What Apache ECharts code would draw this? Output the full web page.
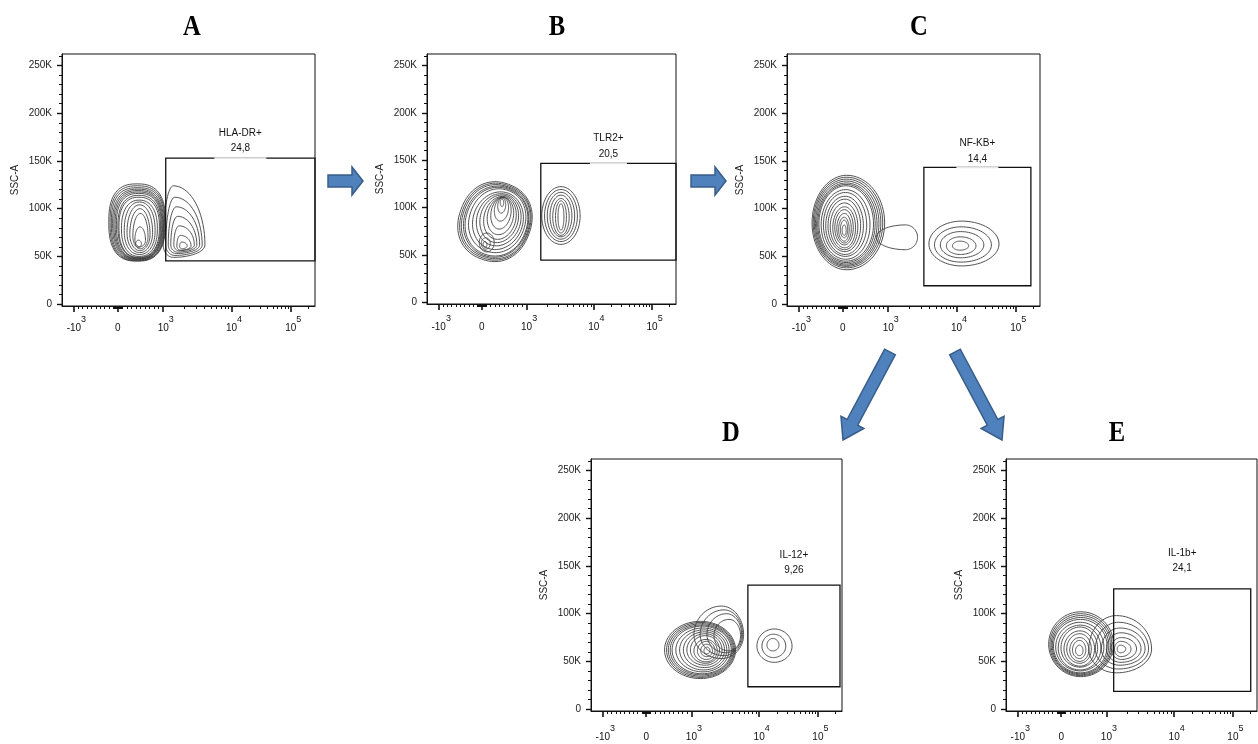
<!DOCTYPE html>
<html>
<head>
<meta charset="utf-8">
<title>Gating strategy</title>
<script src="https://cdn.jsdelivr.net/npm/echarts@6/dist/echarts.min.js"></script>
<style>
  html, body { margin: 0; padding: 0; background: #fff; }
  #main { width: 1258px; height: 744px; }
</style>
</head>
<body>
<div id="main"></div>
<script type="text/javascript">
var FONT = '"Liberation Sans", Arial, sans-serif';

// x axis (biexponential) : major ticks in display channels 0..1000
var xTickValues = [-1000, 0, 1000, 10000, 100000];
var xTickChannels = [47, 220, 400, 670, 904];
var xTickBase = ['-10', '0', '10', '10', '10'];
var xTickPower = ['3', '', '3', '4', '5'];

// y axis SSC-A, in thousands
var yTickValues = [0, 50, 100, 150, 200, 250];
var yTickLabels = ['0', '50K', '100K', '150K', '200K', '250K'];

var panelLetters = ['A', 'B', 'C', 'D', 'E'];
var gateNames = ['HLA-DR+', 'TLR2+', 'NF-KB+', 'IL-12+', 'IL-1b+'];
var gatePercents = ['24,8', '20,5', '14,4', '9,26', '24,1'];
// [x from, y from, x to, y to]  (channel, K)
var gateBoxes = [
    [410, 45.4, 1000, 153],
    [457, 44.3, 1000, 146.6],
    [541, 19.2, 964, 143.3],
    [625, 23.4, 992, 130],
    [429, 18.6, 975, 126]
];

// contour rings: [cx, cy, left, right, down, up, tilt deg, squareness]
var contoursA = [
    [297, 86, 112, 112, 41, 40, 0, 2.6],
    [298, 85.5, 108, 108.5, 40, 38.5, 0, 2.6],
    [299, 85, 104, 105, 39, 37, 0, 2.6],
    [300, 84.5, 100, 101, 38, 36, 0, 2.5],
    [301, 84, 96, 97, 37, 35, 0, 2.5],
    [302, 83.5, 92, 93, 36, 34, 0, 2.5],
    [303, 83, 88, 89, 35, 33, 0, 2.5],
    [304, 82, 83, 85, 33.5, 32, 0, 2.4],
    [304, 81, 79, 81, 32, 31, 0, 2.4],
    [305, 79, 70, 72, 29, 30, 0, 2.3],
    [306, 77, 60, 62, 25, 30, 0, 2.2],
    [307, 75, 50, 51, 21, 29, 0, 2.1],
    [308, 73, 40, 40, 17, 27],
    [310, 71, 30, 30, 13, 24],
    [308, 67, 20, 22, 7, 14],
    [302, 63, 11, 12, 3.5, 4],
    [440, 62, 40, 125, 13, 62],
    [446, 62, 36, 108, 11, 50],
    [452, 62, 32, 92, 9, 40],
    [457, 62, 27, 76, 7.5, 30],
    [463, 62, 21, 60, 6, 20],
    [468, 61, 14, 42, 4.5, 11],
    [473, 61, 8, 22, 3, 4]
];
var contoursB = [
    [273, 85, 145, 145, 42, 42, 20, 2.2],
    [274.5, 85, 139, 139, 40.5, 40.5, 20, 2.2],
    [276, 85, 134, 134, 39, 39, 20, 2.2],
    [277.5, 85, 128, 128, 37.8, 37.8, 20, 2.1],
    [279, 85, 123, 123, 36.5, 36.5, 20, 2.1],
    [282, 86, 112, 112, 34, 34, 20, 2.1],
    [285, 86, 100, 100, 31, 31, 20, 2],
    [288, 87, 88, 88, 28, 28, 18, 2],
    [290, 88, 76, 76, 25.5, 25.5, 16, 2],
    [293, 89, 64, 64, 23, 23, 14, 2],
    [295, 91, 52, 52, 20, 20, 12, 2],
    [297, 94, 40, 40, 17, 17, 10, 2],
    [299, 98, 28, 28, 12.5, 12.5, 8, 2],
    [300, 102, 16, 16, 8, 8, 5, 2],
    [301, 105, 7, 7, 4, 4, 0, 2],
    [240, 63, 30, 30, 10, 10],
    [236, 62, 18, 18, 6, 6],
    [233, 61, 8, 8, 3, 3],
    [538, 91, 77, 77, 30, 31],
    [538, 91, 66, 66, 27, 28],
    [538, 91, 55, 55, 24.5, 25],
    [538, 91, 44, 44, 22, 22],
    [538, 90, 33, 33, 19.5, 19.5],
    [538, 90, 22, 22, 17, 17],
    [538, 90, 12, 12, 14, 14]
];
var contoursC = [
    [236, 85, 137, 150, 49, 50],
    [235.5, 85, 132, 143, 47, 48],
    [235, 85, 127, 136, 45.5, 46],
    [234.5, 84.5, 122, 129, 43.8, 44.5],
    [234, 84, 117, 122, 42, 43],
    [233.5, 84, 112, 115, 40.5, 41.5],
    [233, 84, 107, 109, 39, 40],
    [232, 83, 97, 96, 36, 37],
    [231, 83, 87, 84, 33, 34],
    [230, 82, 77, 72, 30, 31],
    [229, 82, 67, 62, 27, 28],
    [228, 81, 57, 52, 24, 25],
    [228, 80, 47, 43, 21, 22],
    [227, 80, 38, 35, 18, 19],
    [227, 79, 30, 27, 15, 16],
    [226, 78, 22, 20, 12, 13],
    [226, 78, 15, 14, 8.5, 10],
    [226, 77, 8, 8, 5, 6],
    [468, 70, 115, 48, 13, 13],
    [690, 63, 129, 148, 23, 24],
    [688, 62, 105, 120, 18, 19],
    [686, 62, 80, 92, 13.5, 14],
    [685, 61, 55, 62, 9, 9.5],
    [684, 61, 30, 34, 4.5, 5]
];
var contoursD = [
    [436, 62, 143, 140, 30, 30],
    [438, 62, 137, 134, 28.8, 28.8],
    [440, 62, 132, 128, 27.5, 27.5],
    [441.5, 62, 126, 122, 26.2, 26.2],
    [443, 62, 120, 116, 25, 25],
    [446, 62, 108, 104, 23, 23],
    [449, 62, 96, 92, 21, 21],
    [452, 62, 84, 80, 18.5, 19],
    [454, 62, 72, 68, 16, 17],
    [456, 62, 60, 56, 14, 15],
    [458, 61, 48, 45, 11.5, 12],
    [460, 61, 36, 34, 9, 10],
    [461, 61, 24, 23, 6, 7],
    [462, 61, 12, 12, 3, 4],
    [520, 78, 110, 88, 25, 30],
    [530, 78, 95, 74, 22, 26],
    [540, 78, 78, 60, 19, 22],
    [550, 77, 60, 46, 16, 17],
    [730, 66, 69, 71, 17, 18],
    [727, 66, 46, 49, 12, 12.5],
    [724, 67, 23, 25, 6, 7]
];
var contoursE = [
    [298, 68, 128, 130, 34, 34],
    [298, 67.5, 123, 124, 32.5, 32.5],
    [298, 67, 118, 118, 31, 31],
    [297.5, 66.5, 113, 112, 29.5, 29.5],
    [297, 66, 108, 106, 28, 28],
    [296, 65, 98, 94, 25, 26],
    [296, 64, 88, 82, 23, 24],
    [295, 64, 76, 70, 20, 22],
    [295, 63, 64, 58, 18, 19],
    [294, 63, 52, 46, 15, 16],
    [294, 62, 40, 36, 12, 13],
    [293, 62, 28, 25, 9, 10],
    [293, 61, 16, 14, 5, 6],
    [440, 63, 110, 140, 25, 35],
    [448, 63, 92, 120, 21, 28],
    [454, 63, 74, 100, 17, 22],
    [458, 63, 58, 80, 14, 17],
    [460, 63, 42, 60, 11, 12],
    [458, 63, 26, 40, 8, 8],
    [455, 63, 12, 22, 4, 4]
];
var contours = [contoursA, contoursB, contoursC, contoursD, contoursE];

// page layout of the five plots (px)
var panels = [
    { left: 62, top: 54, width: 253, height: 252, nameDy: 25, pctDy: 10, gap: 52, lm: 9, letter: [192, 27] },
    { left: 427, top: 54, width: 249, height: 250, nameDy: 25, pctDy: 9, gap: 37, lm: 10, letter: [557, 27] },
    { left: 787, top: 54, width: 253, height: 252, nameDy: 24, pctDy: 8, gap: 42, lm: 9, letter: [919, 27] },
    { left: 591, top: 459, width: 251, height: 252, nameDy: 30, pctDy: 15, gap: 0, lm: 13, letter: [731, 433] },
    { left: 1006, top: 459, width: 251, height: 252, nameDy: 36, pctDy: 21, gap: 0, lm: 13, letter: [1117, 433] }
];

// value -> display channel, same scale as the major ticks
function toChannel(v) {
    var c = xTickChannels;
    if (v >= 0 && v <= 1000) return c[1] + (c[2] - c[1]) * v / 1000;
    if (v < 0) return c[1] + (c[1] - c[0]) * v / 1000;
    var lg = Math.log10(v);
    if (lg <= 4) return c[2] + (c[3] - c[2]) * (lg - 3);
    return c[3] + (c[4] - c[3]) * (lg - 4);
}

var minorX = [];
[10, 100].forEach(function (dec) {
    for (var k = 1; k < 10; k++) {
        minorX.push(toChannel(k * dec));
        minorX.push(toChannel(-k * dec));
    }
});
[1000, 10000, 100000].forEach(function (dec) {
    for (var k = 2; k < 10; k++) {
        var ch = toChannel(k * dec);
        if (ch < 1000) minorX.push(ch);
    }
});
var minorY = [];
for (var m = 10; m <= 260; m += 10) if (m % 50) minorY.push(m);

function nearest(arr, v) {
    var best = 0;
    for (var i = 1; i < arr.length; i++) if (Math.abs(arr[i] - v) < Math.abs(arr[best] - v)) best = i;
    return best;
}

function ringPoints(c, rL, rR, rD, rU, rot, n) {
    var pts = [], e = 2 / n, cs = Math.cos(rot), sn = Math.sin(rot);
    for (var k = 0; k < 72; k++) {
        var t = k * Math.PI * 2 / 72;
        var ex = Math.cos(t), ey = Math.sin(t);
        var x = Math.sign(ex) * Math.pow(Math.abs(ex), e) * (ex >= 0 ? rR : rL);
        var y = -Math.sign(ey) * Math.pow(Math.abs(ey), e) * (ey >= 0 ? rU : rD);
        pts.push([c[0] + x * cs - y * sn, c[1] + x * sn + y * cs]);
    }
    return pts;
}

function renderRing(params, api) {
    var cx = api.value(0), cy = api.value(1);
    var c = api.coord([cx, cy]);
    var s = api.size([1, 1], [cx, cy]);
    var rot = (api.value(6) || 0) * Math.PI / 180;
    var n = api.value(7) || 2;
    return {
        type: 'polygon',
        silent: true,
        shape: { points: ringPoints(c, api.value(2) * s[0], api.value(3) * s[0], api.value(4) * s[1], api.value(5) * s[1], rot, n) },
        style: { fill: 'none', stroke: '#3e3e3e', lineWidth: 0.9 }
    };
}

function textEl(str, x, y, font) {
    return {
        type: 'text', x: x, y: y,
        style: {
            text: str, font: font || ('10px ' + FONT), fill: '#111',
            align: 'center', verticalAlign: 'middle', textAlign: 'center', textVerticalAlign: 'middle'
        }
    };
}

function makeGateRender(i) {
    var p = panels[i];
    return function (params, api) {
        var tl = api.coord([api.value(0), api.value(3)]);
        var br = api.coord([api.value(2), api.value(1)]);
        var cx = (tl[0] + br[0]) / 2;
        var kids = [{
            type: 'rect',
            shape: { x: tl[0], y: tl[1], width: br[0] - tl[0], height: br[1] - tl[1] },
            style: { fill: 'none', stroke: '#111', lineWidth: 1.3 }
        }];
        if (p.gap) {
            kids.push({ type: 'line', shape: { x1: cx - p.gap / 2, y1: tl[1], x2: cx + p.gap / 2, y2: tl[1] },
                style: { stroke: '#e6e6e6', lineWidth: 1.8 } });
        }
        kids.push(textEl(gateNames[i], cx, tl[1] - p.nameDy));
        kids.push(textEl(gatePercents[i], cx, tl[1] - p.pctDy));
        return { type: 'group', children: kids };
    };
}

var xRich = {
    b: { fontFamily: FONT, fontSize: 10, color: '#111', padding: [8, 0, 0, 5] },
    z: { fontFamily: FONT, fontSize: 10, color: '#111', padding: [8, 0, 0, 0] },
    s: { fontFamily: FONT, fontSize: 9, color: '#111', padding: [0, 0, 8, 0] }
};

var grids = [], xAxes = [], yAxes = [], series = [];
panels.forEach(function (p, i) {
    grids.push({
        left: p.left, top: p.top, width: p.width, height: p.height,
        show: true, borderColor: '#111', borderWidth: 1, backgroundColor: '#fff',
        containLabel: false, outerBoundsMode: 'none'
    });
    xAxes.push({
        gridIndex: i, type: 'value', min: 0, max: 1000, position: 'bottom',
        axisLine: { show: true, onZero: false, lineStyle: { color: '#111', width: 1 } },
        axisTick: { show: true, customValues: xTickChannels, length: 6, lineStyle: { color: '#111', width: 1.6 } },
        axisLabel: {
            show: true, customValues: xTickChannels, margin: p.lm, rich: xRich,
            formatter: function (v) {
                var k = nearest(xTickChannels, v);
                if (!xTickPower[k]) return '{z|' + xTickBase[k] + '}';
                return '{b|' + xTickBase[k] + '}{s|' + xTickPower[k] + '}';
            }
        },
        splitLine: { show: false }
    });
    xAxes.push({
        gridIndex: i, type: 'value', min: 0, max: 1000, position: 'bottom',
        axisLine: { show: false, onZero: false },
        axisTick: { show: true, customValues: minorX, length: 3, lineStyle: { color: '#111', width: 1 } },
        axisLabel: { show: false },
        splitLine: { show: false }
    });
    yAxes.push({
        gridIndex: i, type: 'value', min: -2, max: 262.144, position: 'left',
        name: 'SSC-A', nameLocation: 'middle', nameGap: 42,
        nameTextStyle: { fontFamily: FONT, fontSize: 10, color: '#222' },
        axisLine: { show: true, onZero: false, lineStyle: { color: '#111', width: 1 } },
        axisTick: { show: true, customValues: yTickValues, length: 5, lineStyle: { color: '#111', width: 1.4 } },
        axisLabel: {
            show: true, customValues: yTickValues, margin: 10,
            fontFamily: FONT, fontSize: 10, color: '#222',
            formatter: function (v) { return yTickLabels[nearest(yTickValues, v)]; }
        },
        splitLine: { show: false }
    });
    yAxes.push({
        gridIndex: i, type: 'value', min: -2, max: 262.144, position: 'left',
        axisLine: { show: false, onZero: false },
        axisTick: { show: true, customValues: minorY, length: 3, lineStyle: { color: '#111', width: 1 } },
        axisLabel: { show: false },
        splitLine: { show: false }
    });
    series.push({
        type: 'custom', name: 'contour ' + panelLetters[i],
        xAxisIndex: 2 * i, yAxisIndex: 2 * i,
        dimensions: ['x', 'y', 'rl', 'rr', 'rd', 'ru', 'rot', 'n'],
        encode: { x: 'x', y: 'y' },
        renderItem: renderRing,
        data: contours[i],
        silent: true, z: 2
    });
    series.push({
        type: 'custom', name: 'gate ' + panelLetters[i],
        xAxisIndex: 2 * i, yAxisIndex: 2 * i,
        dimensions: ['x0', 'y0', 'x1', 'y1'],
        encode: { x: ['x0', 'x1'], y: ['y0', 'y1'] },
        renderItem: makeGateRender(i),
        data: [gateBoxes[i]],
        silent: true, z: 3
    });
});

// block arrows between panels
function arrowPoints(x0, y0, x1, y1, sw, hw, hl) {
    var dx = x1 - x0, dy = y1 - y0, len = Math.sqrt(dx * dx + dy * dy);
    var ux = dx / len, uy = dy / len, nx = -uy, ny = ux;
    var bx = x1 - ux * hl, by = y1 - uy * hl;
    return [
        [x0 + nx * sw / 2, y0 + ny * sw / 2],
        [bx + nx * sw / 2, by + ny * sw / 2],
        [bx + nx * hw / 2, by + ny * hw / 2],
        [x1, y1],
        [bx - nx * hw / 2, by - ny * hw / 2],
        [bx - nx * sw / 2, by - ny * sw / 2],
        [x0 - nx * sw / 2, y0 - ny * sw / 2]
    ];
}
var arrows = [
    [328, 181, 363, 181, 12, 28, 11],
    [691, 181, 726, 181, 12, 28, 11],
    [890, 352, 843, 440, 12, 26, 20],
    [955, 352, 1002, 440, 12, 26, 20]
];
var graphics = [];
arrows.forEach(function (a) {
    graphics.push({
        type: 'polygon', silent: true,
        shape: { points: arrowPoints(a[0], a[1], a[2], a[3], a[4], a[5], a[6]) },
        style: { fill: '#4F81BD', stroke: '#385D8A', lineWidth: 1.5 }
    });
});
panels.forEach(function (p, i) {
    var t = textEl(panelLetters[i], p.letter[0], p.letter[1], 'bold 30px "Liberation Serif", "Times New Roman", serif');
    t.scaleX = 0.82;
    t.style.fill = '#000';
    graphics.push(t);
});

var myChart = echarts.init(document.getElementById('main'));
myChart.setOption({
    backgroundColor: '#fff',
    animation: false,
    grid: grids,
    xAxis: xAxes,
    yAxis: yAxes,
    series: series,
    graphic: { elements: graphics }
});
</script>
</body>
</html>
